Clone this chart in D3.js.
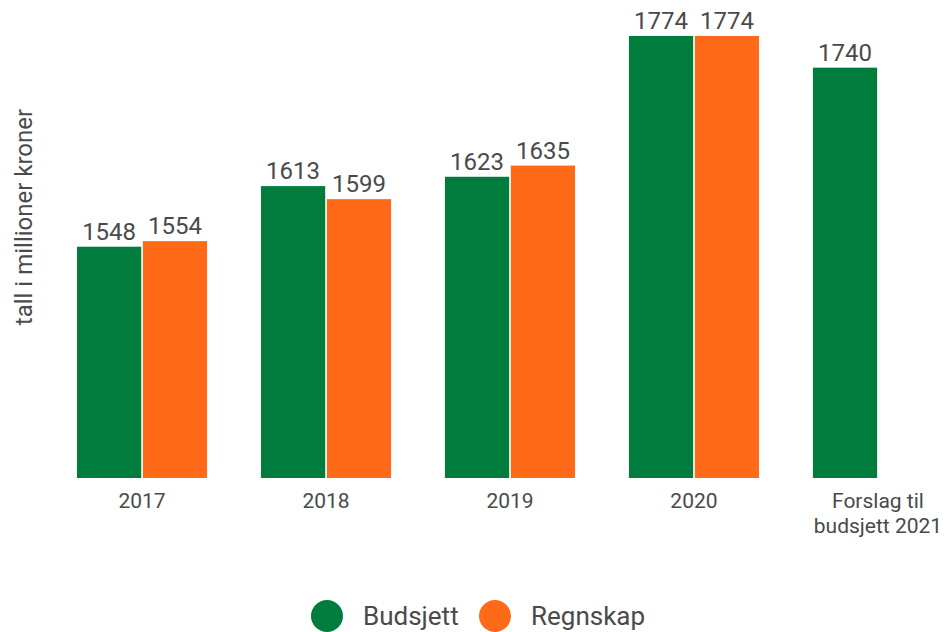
<!DOCTYPE html>
<html lang="no">
<head>
  <meta charset="UTF-8">
  <title>Budsjett og regnskap</title>
  <script src="https://d3js.org/d3.v7.min.js"></script>
  <style>
    body { margin: 0; background: #fff; }
    svg text { font-family: Roboto, "Noto Sans", sans-serif; fill: #4a4a4a; }
  </style>
</head>
<body>
  <svg width="948" height="632"></svg>
  <script>
  const categories = ["2017", "2018", "2019", "2020", "Forslag til\nbudsjett 2021"];
  const seriesNames = ["Budsjett", "Regnskap"];
  const budsjett = [1548, 1613, 1623, 1774, 1740];
  const regnskap = [1554, 1599, 1635, 1774, null];
  const colors = ["#007d3d", "#ff6a19"];

  const svg = d3.select("svg");

  const data = [];
  categories.forEach((c, i) => {
    if (budsjett[i] != null) data.push({ cat: c, series: "Budsjett", value: budsjett[i] });
    if (regnskap[i] != null) data.push({ cat: c, series: "Regnskap", value: regnskap[i] });
  });

  const x0 = d3.scaleBand().domain(categories).range([77, 943]).paddingInner(0.293).paddingOuter(0);
  const x1 = d3.scaleBand().domain(seriesNames).range([0, x0.bandwidth()]).paddingInner(0.025);
  const y = d3.scaleLinear().domain([1300, 1800]).range([478, 11.7]);
  const color = d3.scaleOrdinal().domain(seriesNames).range(colors);

  // bars
  svg.append("g").selectAll("rect")
    .data(data)
    .join("rect")
    .attr("x", d => x0(d.cat) + x1(d.series))
    .attr("y", d => y(d.value))
    .attr("width", x1.bandwidth())
    .attr("height", d => y(1300) - y(d.value))
    .attr("fill", d => color(d.series));

  // value labels
  svg.append("g").selectAll("text")
    .data(data)
    .join("text")
    .attr("x", d => x0(d.cat) + x1(d.series) + x1.bandwidth() / 2)
    .attr("y", d => y(d.value) - 7)
    .attr("text-anchor", "middle")
    .attr("font-size", "24px")
    .text(d => d.value);

  // x axis labels
  const xAxis = svg.append("g")
    .attr("transform", `translate(0,${y(1300)})`)
    .call(d3.axisBottom(x0).tickSize(0).tickPadding(0).tickFormat(""));
  xAxis.select(".domain").remove();
  xAxis.selectAll(".tick").each(function (d) {
    const t = d3.select(this).append("text")
      .attr("text-anchor", "middle")
      .attr("font-size", "21px");
    d.split("\n").forEach((line, i) => {
      t.append("tspan").attr("x", 0).attr("y", 30 + i * 25).text(line);
    });
  });

  // y title
  svg.append("text")
    .attr("transform", "translate(32,217) rotate(-90)")
    .attr("text-anchor", "middle")
    .attr("font-size", "24px")
    .text("tall i millioner kroner");

  // legend
  const legend = svg.append("g");
  const legendX = [327, 495];
  seriesNames.forEach((s, i) => {
    legend.append("circle")
      .attr("cx", legendX[i]).attr("cy", 616).attr("r", 16)
      .attr("fill", color(s));
    legend.append("text")
      .attr("x", legendX[i] + 36).attr("y", 625)
      .attr("font-size", "26px")
      .text(s);
  });
  </script>
</body>
</html>
